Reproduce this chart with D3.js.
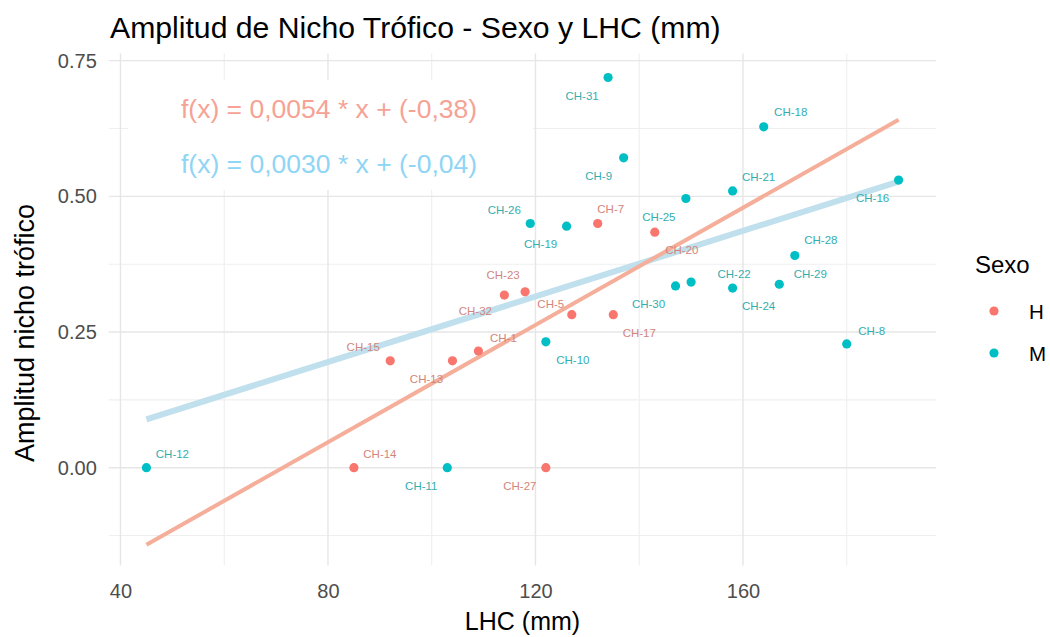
<!DOCTYPE html>
<html>
<head>
<meta charset="utf-8">
<script src="https://cdn.jsdelivr.net/npm/d3@7"></script>
<style>
  body { margin: 0; background: #fff; }
  svg { display: block; font-family: "Liberation Sans", Arial, sans-serif; }
</style>
</head>
<body>
<svg id="chart" width="1050" height="637"></svg>
<script>
// ---------------- DATA ----------------
const ids  = ["CH-14","CH-15","CH-13","CH-1","CH-32","CH-23","CH-27","CH-5","CH-7","CH-17","CH-20",
              "CH-12","CH-11","CH-26","CH-10","CH-19","CH-31","CH-9","CH-30","CH-25","CH-22","CH-24",
              "CH-21","CH-18","CH-29","CH-28","CH-8","CH-16"];
const lhc  = [85, 92, 104, 109, 114, 118, 122, 127, 132, 135, 143,
              45, 103, 119, 122, 126, 134, 137, 147, 149, 150, 158,
              158, 164, 167, 170, 180, 190];
const amp  = [0, 0.197, 0.197, 0.215, 0.318, 0.324, 0, 0.282, 0.450, 0.282, 0.434,
              0, 0, 0.450, 0.232, 0.445, 0.719, 0.571, 0.335, 0.496, 0.342, 0.331,
              0.510, 0.628, 0.338, 0.391, 0.228, 0.530];
const sexo = ["H","H","H","H","H","H","H","H","H","H","H",
              "M","M","M","M","M","M","M","M","M","M","M",
              "M","M","M","M","M","M"];

// fitted lines (endpoints)
const fitX  = [45, 190];
const fitH  = [-0.142, 0.641];
const fitM  = [0.089, 0.527];
const eqH = "f(x) = 0,0054 * x + (-0,38)";
const eqM = "f(x) = 0,0030 * x + (-0,04)";

const xTicks = [40, 80, 120, 160];
const xMinor = [60, 100, 140, 180];
const yTicks = [0, 0.25, 0.5, 0.75];
const yMinor = [-0.125, 0.125, 0.375, 0.625];
const groups = ["H", "M"];

// label offsets (layout, px) as placed by repel in the reference
const labelOffset = [[26,-14],[-27,-14],[-26,18],[25,-13],[-29,16],[-22,-17],[-26,18],[-21,-11],[13,-14],[26,18],[27,18],
                     [26,-14],[-26,18],[-26,-13],[27,18],[-26,18],[-26,19],[-25,18],[-27,18],[-27,18],[43,-8],[26,18],
                     [26,-14],[27,-15],[31,-10],[26,-15],[25,-13],[-26,18]];

// ---------------- LAYOUT ----------------
const P = {left: 108.8, right: 936.2, top: 53.6, bottom: 565.4};
const x = d3.scaleLinear().domain([37.75, 197.25]).range([P.left, P.right]);
const y = d3.scaleLinear().domain([-0.18, 0.763]).range([P.bottom, P.top]);
const col = d3.scaleOrdinal().domain(groups).range(["#F8766D", "#00BFC4"]);
const labCol = d3.scaleOrdinal().domain(groups).range(["#d2857b", "#33aeb0"]);

const svg = d3.select("#chart");

// grid
const grid = svg.append("g");
grid.selectAll(".vmin").data(xMinor).join("line")
  .attr("x1", d => x(d)).attr("x2", d => x(d)).attr("y1", P.top).attr("y2", P.bottom)
  .attr("stroke", "#efefef").attr("stroke-width", 1.1);
grid.selectAll(".hmin").data(yMinor).join("line")
  .attr("y1", d => y(d)).attr("y2", d => y(d)).attr("x1", P.left).attr("x2", P.right)
  .attr("stroke", "#efefef").attr("stroke-width", 1.1);
grid.selectAll(".vmaj").data(xTicks).join("line")
  .attr("x1", d => x(d)).attr("x2", d => x(d)).attr("y1", P.top).attr("y2", P.bottom)
  .attr("stroke", "#e6e6e6").attr("stroke-width", 1.4);
grid.selectAll(".hmaj").data(yTicks).join("line")
  .attr("y1", d => y(d)).attr("y2", d => y(d)).attr("x1", P.left).attr("x2", P.right)
  .attr("stroke", "#e6e6e6").attr("stroke-width", 1.4);

// axes (text only, theme_minimal)
const xAxis = svg.append("g").attr("transform", `translate(0,${P.bottom})`)
  .call(d3.axisBottom(x).tickValues(xTicks).tickSize(0).tickPadding(18).tickFormat(d3.format("d")));
xAxis.select(".domain").remove();
xAxis.selectAll("text").attr("font-size", 20).attr("fill", "#4d4d4d")
  .attr("font-family", "Liberation Sans, Arial, sans-serif");

const yAxis = svg.append("g").attr("transform", `translate(${P.left},0)`)
  .call(d3.axisLeft(y).tickValues(yTicks).tickSize(0).tickPadding(12).tickFormat(d3.format(".2f")));
yAxis.select(".domain").remove();
yAxis.selectAll("text").attr("font-size", 20).attr("fill", "#4d4d4d")
  .attr("font-family", "Liberation Sans, Arial, sans-serif");

// equation box
svg.append("rect").attr("x", 128).attr("y", 80).attr("width", 405).attr("height", 110).attr("fill", "#fff");
svg.append("text").attr("x", 181).attr("y", 118).attr("font-size", 26.5).attr("fill", "#f6a294").text(eqH);
svg.append("text").attr("x", 181).attr("y", 173).attr("font-size", 26.5).attr("fill", "#8fd5f5").text(eqM);

// fitted lines
const line = d3.line().x(d => x(d[0])).y(d => y(d[1]));
svg.append("path").datum(fitX.map((v, i) => [v, fitM[i]])).attr("d", line)
  .attr("fill", "none").attr("stroke", "#bfe0ec").attr("stroke-width", 6);
svg.append("path").datum(fitX.map((v, i) => [v, fitH[i]])).attr("d", line)
  .attr("fill", "none").attr("stroke", "#f4ae99").attr("stroke-width", 4);

// points
const pts = ids.map((id, i) => ({id, x: lhc[i], y: amp[i], s: sexo[i], off: labelOffset[i]}));
svg.append("g").selectAll("circle").data(pts).join("circle")
  .attr("cx", d => x(d.x)).attr("cy", d => y(d.y)).attr("r", 4.6)
  .attr("fill", d => col(d.s));

// labels
svg.append("g").selectAll("text").data(pts).join("text")
  .attr("x", d => x(d.x) + d.off[0]).attr("y", d => y(d.y) + d.off[1])
  .attr("text-anchor", "middle").attr("dominant-baseline", "central")
  .attr("font-size", 11.5).attr("fill", d => labCol(d.s)).text(d => d.id);

// titles
svg.append("text").attr("x", 110).attr("y", 38).attr("font-size", 30.2).attr("fill", "#000")
  .text("Amplitud de Nicho Trófico - Sexo y LHC (mm)");
svg.append("text").attr("x", (P.left + P.right) / 2).attr("y", 630).attr("text-anchor", "middle")
  .attr("font-size", 25).attr("fill", "#000").text("LHC (mm)");
svg.append("text").attr("transform", `translate(33.5,333) rotate(-90)`)
  .attr("text-anchor", "middle").attr("font-size", 27).attr("fill", "#000").text("Amplitud nicho trófico");

// legend
const lg = svg.append("g");
lg.append("text").attr("x", 975).attr("y", 273).attr("font-size", 24).attr("fill", "#000").text("Sexo");
const items = lg.selectAll("g").data(groups).join("g")
  .attr("transform", (d, i) => `translate(0,${311 + i * 42})`);
items.append("circle").attr("cx", 994).attr("cy", 0).attr("r", 4.6).attr("fill", d => col(d));
items.append("text").attr("x", 1029).attr("y", 7.5).attr("font-size", 20.5).attr("fill", "#000").text(d => d);
</script>
</body>
</html>
